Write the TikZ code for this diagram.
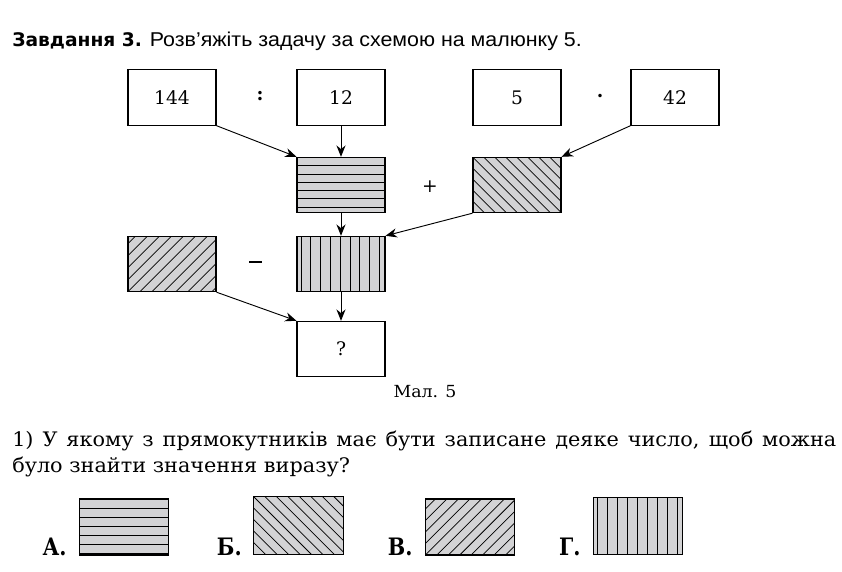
\documentclass[tikz,border=0pt]{standalone}
\usepackage{fontspec}
\setmainfont{DejaVu Serif}
\newfontfamily\headfont[FakeStretch=1.07]{Liberation Sans}
\newfontfamily\heavyfont{DejaVu Sans}
\newfontfamily\bodyfont[FakeStretch=1.04]{DejaVu Serif}
\newfontfamily\labelfont[FakeStretch=0.86]{DejaVu Serif}
\usetikzlibrary{arrows.meta, positioning}
\definecolor{hatchGray}{HTML}{D3D3D5}

\begin{document}
\begin{tikzpicture}[x=0.75pt, y=-0.75pt,
  numbox/.style={draw, line width=0.8pt, minimum width=66pt, minimum height=41.5pt,
                 inner sep=0pt, font=\fontsize{14}{16}\selectfont},
  hatched/.style={numbox, fill=hatchGray},
  hatchline/.style={line width=0.55pt},
  rows/.style={hatched, path picture={
      \foreach \k in {1,...,8}
        \draw[hatchline] ([yshift={-\k*#1}]path picture bounding box.north west) -- ++(80pt,0);}},
  cols/.style={hatched, path picture={
      \foreach \k in {0,...,9}
        \draw[hatchline] ([xshift={3pt+\k*#1}]path picture bounding box.north west) -- ++(0,-50pt);}},
  fall/.style={hatched, path picture={
      \foreach \k in {-6,...,10}
        \draw[hatchline] ([xshift={\k*#1}]path picture bounding box.north west) -- ++(60pt,-60pt);}},
  rise/.style={hatched, path picture={
      \foreach \k in {-6,...,10}
        \draw[hatchline] ([xshift={\k*#1}]path picture bounding box.south west) -- ++(60pt,60pt);}},
  optbox/.style={minimum width=67pt, minimum height=42pt},
  opsign/.style={font=\fontsize{14}{16}\selectfont},
  optlabel/.style={font=\labelfont\bfseries\fontsize{18}{20}\selectfont, anchor=base east, inner sep=0pt},
  a/.style={-{Stealth[length=3mm, width=2.4mm]}, line width=0.7pt}
]
\useasboundingbox (0,0) rectangle (842,571);

% title
\node[anchor=base west, inner sep=0pt, font=\fontsize{14}{16}\selectfont] (title) at (12,46)
  {{\heavyfont\bfseries Завдання 3.} {\headfont\fontsize{15}{17}\selectfont Розв’яжіть задачу за схемою на малюнку 5.}};

% scheme
\node[numbox] (n144) at (172,97.5) {144};
\node[numbox] (n12) at (341,97.5) {12};
\node[numbox] (n5) at (517,97.5) {5};
\node[numbox] (n42) at (675,97.5) {42};
\node[opsign] (div) at (260,96) {\textbf{:}};
\node[opsign] (mul) at (600,98) {\textbf{·}};

\node[rows=6.2pt] (quot) at (341,185) {};
\node[fall=8.25pt] (prod) at (517,185) {};
\node[opsign] (plus) at (430,187) {+};

\node[rise=9pt] (minuend) at (172,264) {};
\node[cols=7.35pt] (sum) at (341,264) {};
\node[inner sep=0pt] (minus) at (255.5,262) {\rule{9.75pt}{1.4pt}};

\node[numbox] (res) at (341,349) {?};

\draw[a] (n144.south east) -- (quot.north west);
\draw[a] (n12) -- (quot);
\draw[a] (n42.south west) -- (prod.north east);
\draw[a] (quot) -- (sum);
\draw[a] (prod.south west) -- (sum.north east);
\draw[a] (minuend.south east) -- (res.north west);
\draw[a] (sum) -- (res);

\node[anchor=base, font=\bodyfont\fontsize{12.5}{14}\selectfont] (caption) at (425,397) {Мал. 5};

% question
\node[anchor=north west, text width=618pt, align=justify, inner sep=0pt,
      font=\bodyfont\fontsize{15}{19.5}\selectfont] (question) at (12,431)
  {1) У якому з прямокутників має бути записане деяке число, щоб можна\linebreak
   було знайти значення виразу?};

% answers
\node[rows=6.75pt, optbox] (optA) at (124,527) {};
\node[fall=8.6pt, optbox, minimum height=44pt, minimum width=68pt] (optB) at (298.5,525.5) {};
\node[rise=8.6pt, optbox] (optC) at (470,527) {};
\node[cols=7.5pt, optbox, minimum height=43pt] (optD) at (638,526) {};
\node[optlabel] (labA) at ([xshift=-9pt]optA.south west) {А.};
\node[optlabel] (labB) at ([xshift=-8pt]optB.south west) {Б.};
\node[optlabel] (labC) at ([xshift=-9pt]optC.south west) {В.};
\node[optlabel] (labD) at ([xshift=-9pt]optD.south west) {Г.};
\end{tikzpicture}
\end{document}
